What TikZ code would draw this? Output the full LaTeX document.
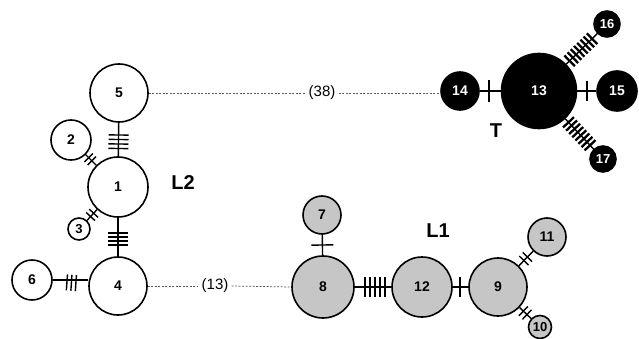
\documentclass[tikz,border=0pt]{standalone}
\usepackage{fontspec}
\setmainfont{Liberation Sans}
\usetikzlibrary{calc}
% mutation marks across an edge: [style]{from}{to}{distances from 'from'}{half length}
\newcommand\mutmarks[5][mut]{%
  \foreach \d in {#4}{%
    \coordinate (mk) at ($(#2.center)!\d pt!(#3.center)$);
    \draw[#1] ($(mk)!#5 pt!90:(#3.center)$) -- ($(mk)!#5 pt!-90:(#3.center)$);
  }}
\begin{document}
\begin{tikzpicture}[x=1pt,y=-1pt,
  hap/.style={circle,draw=black,line width=1.6pt,inner sep=0pt,
    font=\bfseries\fontsize{14}{14}\selectfont},
  small/.style={font=\bfseries\fontsize{13}{13}\selectfont},
  l2/.style={hap,fill=white},
  l1/.style={hap,fill=gray!45},
  tt/.style={hap,fill=black,text=white},
  link/.style={line width=1.4pt},
  mut/.style={line width=1.4pt},
  mutbold/.style={line width=2.3pt},
  far/.style={dash pattern=on 2pt off 1.5pt,line width=0.75pt,draw=black!65},
  clade/.style={font=\bfseries\fontsize{20}{20}\selectfont},
  steps/.style={font=\fontsize{15}{15}\selectfont,inner sep=3pt}]
\useasboundingbox (0,0) rectangle (639,339);

% lineage L2
\node[l2,minimum size=58pt] (n5) at (119,93) {5};
\node[l2,minimum size=60pt] (n1) at (118,187) {1};
\node[l2,minimum size=40pt] (n2) at (71,140) {2};
\node[l2,minimum size=22pt,small] (n3) at (79,229) {3};
\node[l2,minimum size=58pt] (n4) at (118,286) {4};
\node[l2,minimum size=40pt] (n6) at (32,280) {6};
\node[clade] (lL2) at (183,183) {L2};

% lineage L1
\node[l1,minimum size=38pt] (n7) at (322,215) {7};
\node[l1,minimum size=62pt] (n8) at (323,287) {8};
\node[l1,minimum size=60pt] (n12) at (422,287) {12};
\node[l1,minimum size=58pt] (n9) at (498,287) {9};
\node[l1,minimum size=38pt] (n11) at (547,237) {11};
\node[l1,minimum size=23pt,small] (n10) at (540,327) {10};
\node[clade] (lL1) at (438,231) {L1};

% lineage T
\node[tt,minimum size=75pt] (n13) at (539,91) {13};
\node[tt,minimum size=38pt] (n14) at (460,91) {14};
\node[tt,minimum size=40pt] (n15) at (617,91) {15};
\node[tt,minimum size=26pt,small] (n16) at (607,24) {16};
\node[tt,minimum size=26pt,small] (n17) at (603,159) {17};
\node[clade] (lT) at (496,131) {T};

% edges
\draw[link] (n5) -- (n1);
\draw[link] (n1) -- (n4);
\draw[link] (n2) -- (n1);
\draw[link] (n3) -- (n1);
\draw[link] (n6.east) -- (n4.west |- n6.east);
\draw[link] (n7) -- (n8);
\draw[link] (n8) -- (n12);
\draw[link] (n12) -- (n9);
\draw[link] (n9) -- (n11);
\draw[link] (n9) -- (n10);
\draw[link] (n14) -- (n13);
\draw[link] (n13) -- (n15);
\draw[link] (n13) -- (n16);
\draw[link] (n13) -- (n17);

% mutational steps
\mutmarks{n5}{n1}{42,46.5,51,55.5}{10}
\mutmarks{n1}{n4}{46,50,54,58}{10}
\mutmarks{n6}{n4}{35,39.5,44}{8}
\mutmarks{n2}{n1}{25,29.5}{6}
\mutmarks{n3}{n1}{17,21.5}{6}
\mutmarks{n7}{n8}{30}{11}
\mutmarks{n8}{n12}{42,47,52,57,62}{10}
\mutmarks{n12}{n9}{38}{10}
\mutmarks{n9}{n11}{37,42}{6.5}
\mutmarks{n9}{n10}{35,40}{6.5}
\mutmarks{n14}{n13}{29}{11}
\mutmarks{n13}{n15}{48}{10}
\mutmarks[mutbold]{n13}{n16}{43,47.5,52,56.5,61,65.5,70,74.5}{7.5}
\mutmarks[mutbold]{n13}{n17}{43,47.5,52,56.5,61,65.5,70,74.5}{7.5}

% long-distance links
\node[steps] (s38) at (322,93) {(38)};
\node[steps] (s13) at (215,286) {(13)};
\draw[far] (n5.east) -- (s38.west |- n5.east);
\draw[far] (s38.east |- n5.east) -- (n14.west |- n5.east);
\draw[far] (n4.east) -- (s13.west);
\draw[far] (s13.east) -- (n8.west);
\end{tikzpicture}
\end{document}
